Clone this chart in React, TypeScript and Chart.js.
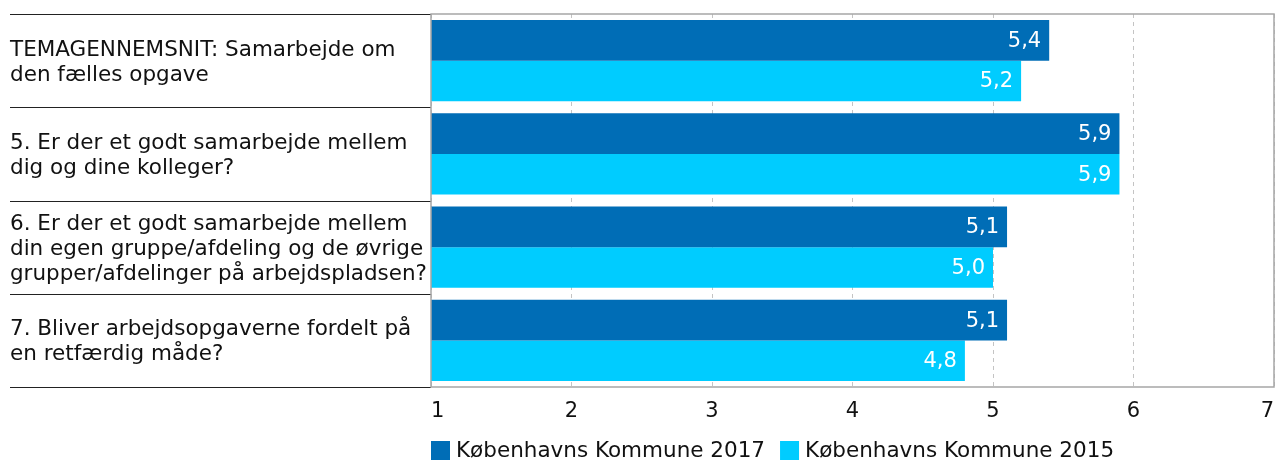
import React, { useEffect, useRef } from "react";
import { Chart, registerables } from "chart.js";

Chart.register(...registerables);

const categoryLines: string[][] = [
  ["TEMAGENNEMSNIT: Samarbejde om", "den fælles opgave"],
  ["5. Er der et godt samarbejde mellem", "dig og dine kolleger?"],
  ["6. Er der et godt samarbejde mellem", "din egen gruppe/afdeling og de øvrige", "grupper/afdelinger på arbejdspladsen?"],
  ["7. Bliver arbejdsopgaverne fordelt på", "en retfærdig måde?"],
];
const seriesNames = ["Københavns Kommune 2017", "Københavns Kommune 2015"];
const values2017 = [5.4, 5.9, 5.1, 5.1];
const values2015 = [5.2, 5.9, 5.0, 4.8];
const xMin = 1;
const xMax = 7;

const FONT = "'DejaVu Sans', Verdana, sans-serif";
const DARK = "#006db6";
const LIGHT = "#00ccff";

const sidePlugin = {
  id: "sideLabels",
  beforeDraw(chart: any) {
    const { ctx, chartArea } = chart;
    const n = categoryLines.length;
    const h = (chartArea.bottom - chartArea.top) / n;
    ctx.save();
    ctx.strokeStyle = "#222";
    ctx.lineWidth = 1.2;
    for (let i = 0; i <= n; i++) {
      const y = Math.round(chartArea.top + i * h) + 0.5;
      ctx.beginPath();
      ctx.moveTo(10, y);
      ctx.lineTo(chartArea.left, y);
      ctx.stroke();
    }
    ctx.fillStyle = "#111";
    ctx.font = `21.5px ${FONT}`;
    ctx.textAlign = "left";
    ctx.textBaseline = "middle";
    const lh = 25;
    categoryLines.forEach((lines, i) => {
      const cy = chart.scales.y.getPixelForValue(i) + 2;
      const start = cy - ((lines.length - 1) * lh) / 2;
      lines.forEach((t, j) => ctx.fillText(t, 10, start + j * lh, chartArea.left - 14));
    });
    ctx.restore();
  },
  afterDatasetsDraw(chart: any) {
    const { ctx, chartArea } = chart;
    ctx.save();
    ctx.font = `21px ${FONT}`;
    ctx.fillStyle = "#fff";
    ctx.textAlign = "right";
    ctx.textBaseline = "middle";
    chart.data.datasets.forEach((ds: any, di: number) => {
      const meta = chart.getDatasetMeta(di);
      meta.data.forEach((el: any, i: number) => {
        const v = ds.data[i] as number;
        ctx.fillText(v.toFixed(1).replace(".", ","), el.x - 8, el.y + 1);
      });
    });
    ctx.strokeStyle = "#a6a6a6";
    ctx.lineWidth = 1.5;
    ctx.strokeRect(chartArea.left, chartArea.top, chartArea.right - chartArea.left, chartArea.bottom - chartArea.top);

    // legend
    ctx.font = `21.5px ${FONT}`;
    ctx.textAlign = "left";
    ctx.textBaseline = "middle";
    let x = chartArea.left;
    const cy = 451;
    chart.data.datasets.forEach((ds: any) => {
      ctx.fillStyle = ds.backgroundColor;
      ctx.fillRect(x, cy - 10, 19, 19);
      ctx.fillStyle = "#111";
      ctx.fillText(ds.label, x + 25, cy);
      x += 25 + ctx.measureText(ds.label).width + 15;
    });
    ctx.restore();
  },
};

export default function App() {
  const ref = useRef<HTMLCanvasElement | null>(null);
  useEffect(() => {
    if (!ref.current) return;
    const chart = new Chart(ref.current, {
      type: "bar",
      data: {
        labels: categoryLines.map((l) => l.join(" ")),
        datasets: [
          { label: seriesNames[0], data: values2017, backgroundColor: DARK, borderWidth: 0 },
          { label: seriesNames[1], data: values2015, backgroundColor: LIGHT, borderWidth: 0 },
        ],
      },
      options: {
        indexAxis: "y",
        animation: false,
        responsive: false,
        devicePixelRatio: 1,
        layout: { padding: { left: 431, top: 14, right: 1, bottom: 31 } },
        datasets: { bar: { categoryPercentage: 0.87, barPercentage: 1 } },
        scales: {
          x: {
            min: xMin,
            max: xMax,
            border: { display: false, dash: [4, 4] },
            grid: { color: "#c4c4c4", lineWidth: 1, drawTicks: false },
            afterFit: (scale: any) => {
              scale.paddingLeft = 0;
              scale.paddingRight = 0;
              scale.height = 43;
            },
            ticks: {
              stepSize: 1,
              align: "inner",
              padding: 12,
              color: "#111",
              font: { family: FONT, size: 21 },
            },
          },
          y: {
            display: false,
            grid: { display: false },
          },
        },
        plugins: {
          legend: { display: false },
          tooltip: { enabled: false },
        },
      },
      plugins: [sidePlugin],
    });
    return () => chart.destroy();
  }, []);
  return (
    <div style={{ position: "absolute", left: 0, top: 0, width: 1275, height: 461, background: "#fff" }}>
      <canvas ref={ref} width={1275} height={461} style={{ width: 1275, height: 461 }} />
    </div>
  );
}
